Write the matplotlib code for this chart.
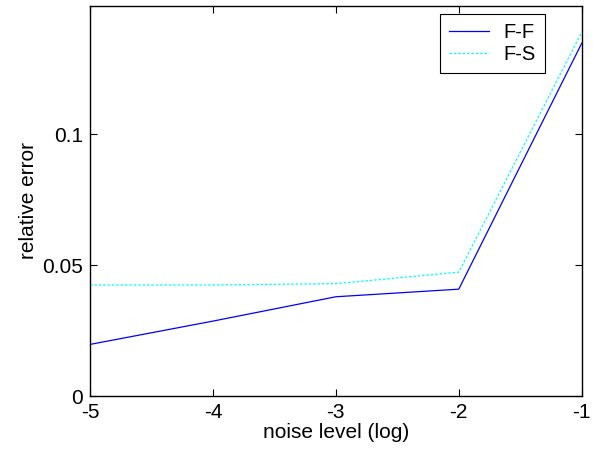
import matplotlib
matplotlib.use('Agg')
import matplotlib.pyplot as plt

# noise level (log10) on x
noise_level = [-5, -4, -3, -2, -1]
# relative error of the two methods
err_ff = [0.0197, 0.0286, 0.0379, 0.0408, 0.1347]
err_fs = [0.0424, 0.0424, 0.0429, 0.0473, 0.1389]

plt.rcParams['font.family'] = ['Liberation Sans', 'DejaVu Sans']
plt.rcParams['axes.unicode_minus'] = False

fig = plt.figure(figsize=(5.96, 4.5), dpi=100)
ax = fig.add_axes([0.151, 0.12, 0.825, 0.867])

ax.plot(noise_level, err_ff, color='blue', linewidth=0.9, label='F-F')
ax.plot(noise_level, err_fs, color='cyan', linestyle=(0, (2, 1.5)), linewidth=0.9, label='F-S')

ax.set_xlim(-5, -1)
ax.set_ylim(0, 0.149)
ax.set_xticks([-5, -4, -3, -2, -1])
ax.set_yticks([0, 0.05, 0.1])
ax.set_yticklabels(['0', '0.05', '0.1'])
ax.tick_params(direction='in', top=True, right=True, length=5, labelsize=15, pad=5)
for s in ax.spines.values():
    s.set_linewidth(1)

ax.set_xlabel('noise level (log)', fontsize=15, labelpad=1)
ax.set_ylabel('relative error', fontsize=15, labelpad=3)

leg = ax.legend(loc='upper right', bbox_to_anchor=(0.925, 0.979), borderaxespad=0,
                fancybox=False, edgecolor='black', framealpha=1, fontsize=14.5,
                handlelength=2.0, handletextpad=0.7, borderpad=0.45, labelspacing=0.15)
leg.get_frame().set_linewidth(0.8)

fig.savefig('out.png', dpi=100)
plt.close()
